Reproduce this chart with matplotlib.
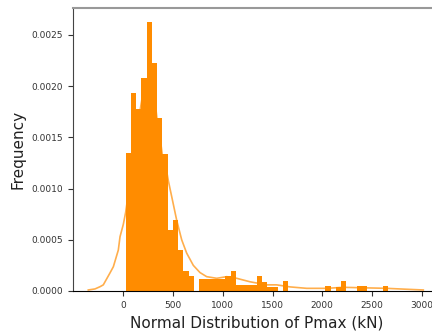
import numpy as np
import matplotlib
matplotlib.use("Agg")
import matplotlib.pyplot as plt

# Histogram of Pmax (density-normalised), equal-width bins
bin_start = 24.0
bin_width = 52.8
densities = [
    0.00135, 0.00193, 0.00178, 0.00208, 0.00263, 0.00223, 0.00169, 0.00134,
    0.00060, 0.00069, 0.00040, 0.00020, 0.000146, 0.0,
    0.00012, 0.00012, 0.00012, 0.00012, 0.00012, 0.00015, 0.00020,
    0.00006, 0.00006, 0.00006, 0.00006, 0.00015, 0.00009, 0.00004, 0.00004,
    0.0, 0.00010, 0.0, 0.0, 0.0, 0.0, 0.0, 0.0, 0.0,
    0.00005, 0.0, 0.00004, 0.00010, 0.0, 0.0, 0.00005, 0.00005,
    0.0, 0.0, 0.0, 0.00005,
]

# Kernel density estimate of the same sample
kde_x = [-352, -285, -234, -201, -134, -100, -50, -33, 0, 24, 50, 100, 150,
         200, 250, 280, 320, 341, 370, 393, 436, 452, 487, 537, 587, 637, 704,
         771, 838, 939, 1040, 1140, 1274, 1442, 1542, 1676, 1844, 2045,
         2212, 2380, 2648, 2849, 3016]
kde_y = [0.00001, 0.00002, 0.000042, 0.00006, 0.000176, 0.000237, 0.0004,
         0.00053, 0.00065, 0.00077, 0.00095, 0.00130, 0.00165, 0.00195,
         0.00205, 0.00200, 0.00185, 0.00166, 0.00150, 0.00132, 0.00117,
         0.00108, 0.00092, 0.00069, 0.00050, 0.00037, 0.00025, 0.00018,
         0.00014, 0.000124, 0.00014, 0.000124, 0.00009, 0.00006, 0.00006,
         0.00004, 0.000026, 0.000026, 0.000036, 0.000032, 0.000026,
         0.000017, 0.00001]

x_ticks = [0, 500, 1000, 1500, 2000, 2500, 3000]
y_ticks = [0.0, 0.0005, 0.0010, 0.0015, 0.0020, 0.0025]

fig = plt.figure(figsize=(4.32, 3.33), dpi=100)
xmin, xmax = -510, 3190
px_per_unit = 0.09947
ax_left_px = 123.3 + xmin * px_per_unit
ax_width_px = (xmax - xmin) * px_per_unit
ax = fig.add_axes([ax_left_px / 432, (333 - 291) / 333,
                   ax_width_px / 432, (291 - 7.5) / 333])

lefts = bin_start + bin_width * np.arange(len(densities))
ax.bar(lefts, densities, width=bin_width, align="edge",
       color="darkorange", linewidth=0, zorder=2)
ax.plot(kde_x, kde_y, color="darkorange", alpha=0.7, lw=1.2, zorder=1)

ax.set_xlim(xmin, xmax)
ax.set_ylim(0, 0.002768)
ax.set_xticks(x_ticks)
ax.set_yticks(y_ticks)
ax.set_yticklabels([f"{v:.4f}" for v in y_ticks])
ax.tick_params(labelsize=6.5, length=3.5, width=0.8, colors="#333333")
ax.set_xlabel("Normal Distribution of Pmax (kN)", fontsize=11, color="#222222")
ax.set_ylabel("Frequency", fontsize=11, color="#222222")
ax.spines["top"].set_color("#999999")
ax.spines["top"].set_linewidth(1.5)
ax.spines["right"].set_visible(False)
ax.spines["left"].set_color("#444444")

fig.savefig("out.png", dpi=100)
